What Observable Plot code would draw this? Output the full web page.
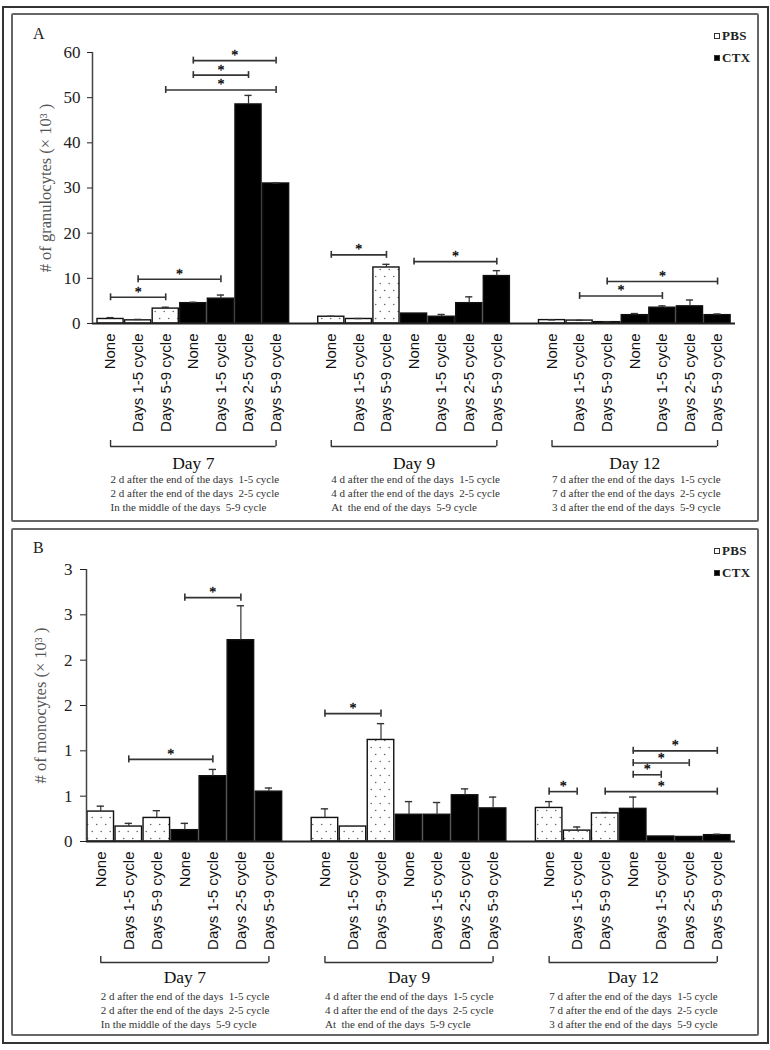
<!DOCTYPE html>
<html><head><meta charset="utf-8">
<script src="https://cdn.jsdelivr.net/npm/d3@7"></script>
<script src="https://cdn.jsdelivr.net/npm/@observablehq/plot@0.6"></script>
<style>
html,body{margin:0;padding:0;background:#fff;}
#page{position:relative;width:770px;height:1050px;overflow:hidden;font-family:"Liberation Serif","Times New Roman",serif;}
.box{position:absolute;box-sizing:border-box;}
#outer{left:2px;top:6px;width:767px;height:1038px;border:2px solid #333;}
#boxA{left:11px;top:13px;width:748px;height:509px;border:2px solid #666;border-radius:2px;}
#boxB{left:11px;top:528px;width:748px;height:508px;border:2px solid #666;border-radius:2px;}
.plot{position:absolute;left:0;}
.letter{position:absolute;font-size:16px;color:#222;line-height:16px;}
.legend{position:absolute;font-weight:bold;font-size:13px;color:#222;letter-spacing:0.3px;line-height:14px;white-space:nowrap;}
.sw{display:inline-block;box-sizing:border-box;width:6px;height:6px;border:1px solid #333;margin-right:2px;vertical-align:1px;}
</style></head>
<body>
<svg width="0" height="0" style="position:absolute">
  <defs>
    <pattern id="dots" patternUnits="userSpaceOnUse" width="9" height="14">
      <rect width="9" height="14" fill="#fff"></rect>
      <circle cx="2.2" cy="3.5" r="0.8" fill="#666"></circle>
      <circle cx="6.7" cy="10.5" r="0.8" fill="#666"></circle>
    </pattern>
  </defs>
</svg>
<div id="page">
  <div class="box" id="outer"></div>
  <div class="box" id="boxA"></div>
  <div class="box" id="boxB"></div>
  <div class="plot" id="plotA" style="top:0px"></div>
  <div class="plot" id="plotB" style="top:520px"></div>
  <div class="letter" style="left:33px;top:26px">A</div>
  <div class="letter" style="left:33px;top:540px">B</div>
  <div class="legend" style="left:714px;top:29px"><span class="sw" style="background:#fff"></span>PBS</div>
  <div class="legend" style="left:714px;top:51px"><span class="sw" style="background:#000"></span>CTX</div>
  <div class="legend" style="left:714px;top:544px"><span class="sw" style="background:#fff"></span>PBS</div>
  <div class="legend" style="left:714px;top:566px"><span class="sw" style="background:#000"></span>CTX</div>
</div>
<script>
// ---- data ----
const categories = ["None","Days 1-5 cycle","Days 5-9 cycle","None","Days 1-5 cycle","Days 2-5 cycle","Days 5-9 cycle"];
const treatments = ["PBS","PBS","PBS","CTX","CTX","CTX","CTX"];
const groupNames = ["Day 7","Day 9","Day 12"];
const groupNotes = [
  ["2 d after the end of the days  1-5 cycle","2 d after the end of the days  2-5 cycle","In the middle of the days  5-9 cycle"],
  ["4 d after the end of the days  1-5 cycle","4 d after the end of the days  2-5 cycle","At  the end of the days  5-9 cycle"],
  ["7 d after the end of the days  1-5 cycle","7 d after the end of the days  2-5 cycle","3 d after the end of the days  5-9 cycle"]
];
// granulocytes (x10^3), 7 bars per day
const granMean = [1.0,0.7,3.3,4.5,5.5,48.5,31.0, 1.5,1.0,12.4,2.2,1.5,4.5,10.5, 0.75,0.65,0.3,1.85,3.5,3.8,1.85];
const granErr  = [0.3,0.2,0.3,0.2,0.8,2.0,0.1, 0.1,0.1,0.7,0.0,0.5,1.4,1.2, 0.05,0.05,0.05,0.35,0.4,1.4,0.25];
// monocytes (x10^3)
const monoMean = [0.33,0.165,0.26,0.125,0.72,2.22,0.55, 0.26,0.165,1.12,0.295,0.295,0.51,0.365, 0.37,0.12,0.31,0.36,0.055,0.05,0.07];
const monoErr  = [0.06,0.035,0.08,0.075,0.075,0.38,0.04, 0.1,0.0,0.18,0.145,0.135,0.07,0.125, 0.07,0.04,0.01,0.13,0.0,0.0,0.01];
// significance brackets: [day index, from bar, to bar, y]
const granSig = [[0,3,6,58.2],[0,3,5,55.0],[0,2,6,51.7],[0,0,2,5.8],[0,1,4,9.8],[1,0,2,15.2],[1,3,6,13.7],[2,2,6,9.3],[2,1,4,6.1]];
const monoSig = [[0,3,5,2.69],[0,1,4,0.906],[1,0,2,1.41],[2,0,1,0.55],[2,3,6,1.0],[2,3,5,0.865],[2,3,4,0.736],[2,2,6,0.55]];
const yTicksA = [0,10,20,30,40,50,60];
const yTicksB = [0,0.5,1,1.5,2,2.5,3];
const yTickLabelsB = ["0","1","1","2","2","3","3"];
const yTitleA = "# of granulocytes (\u00d7 10\u00b3 )";
const yTitleB = "# of monocytes (\u00d7 10\u00b3 )";

function panel(c) {
  const bars = [];
  groupNames.forEach((g, gi) => categories.forEach((cat, ci) => {
    const k = gi * 7 + ci;
    bars.push({slot: gi * 8 + ci, label: cat, t: treatments[ci], v: c.means[k], e: c.errs[k]});
  }));
  const labelBySlot = new Map(bars.map(d => [d.slot, d.label]));
  const hw = 0.473;
  const groups = groupNames.map((name, gi) => ({name, first: gi * 8, last: gi * 8 + 6, mid: gi * 8 + 3, notes: groupNotes[gi].join("\n")}));
  const groupEnds = groups.flatMap(g => [{x: g.first}, {x: g.last}]);
  const sigs = c.sig.map(([g, a, b, y]) => ({x1: g * 8 + a, x2: g * 8 + b, y}));
  const sigEnds = sigs.flatMap(s => [{x: s.x1, y: s.y}, {x: s.x2, y: s.y}]);
  const withErr = bars.filter(d => d.e > 0);
  const serif = "Liberation Serif, Times New Roman, serif";
  return Plot.plot({
    width: 770, height: c.height,
    marginLeft: c.ml, marginRight: 35, marginTop: c.mt, marginBottom: c.mb,
    style: {background: "transparent", overflow: "visible"},
    x: {type: "linear", domain: c.xDomain, axis: null},
    y: {domain: c.yDomain, axis: null},
    color: {type: "ordinal", domain: ["PBS", "CTX"], range: ["url(#dots)", "#000"]},
    marks: [
      Plot.rect(bars, {x1: d => d.slot - hw, x2: d => d.slot + hw, y1: () => 0, y2: "v", fill: "t", stroke: "#111", strokeWidth: 1.4}),
      Plot.ruleX(withErr, {x: "slot", y1: "v", y2: d => d.v + d.e, stroke: "#333", strokeWidth: 1.2}),
      Plot.ruleY(withErr, {x1: d => d.slot - 0.13, x2: d => d.slot + 0.13, y: d => d.v + d.e, stroke: "#333", strokeWidth: 1.4}),
      Plot.ruleY([0], {stroke: "#222", strokeWidth: 2}),
      Plot.ruleX([c.xDomain[0]], {stroke: "#444", strokeWidth: 1.5}),
      Plot.axisY({ticks: c.yTicks, tickFormat: c.tickFormat, tickSize: c.tickSize, tickPadding: c.tickPadding, fontSize: 17, fontFamily: serif, color: "#222", label: null}),
      Plot.axisX({ticks: bars.map(d => d.slot), tickFormat: s => labelBySlot.get(s), tickRotate: -90, tickSize: 0, tickPadding: 10, fontSize: 15, fontFamily: "Liberation Sans, Arial, sans-serif", color: "#111", label: null}),
      Plot.text([c.yTitle], {frameAnchor: "left", rotate: -90, dx: c.titleDx, text: d => d, textAnchor: "middle", fontSize: 16.5, fontFamily: serif, fill: "#555"}),
      // significance brackets
      Plot.ruleY(sigs, {x1: "x1", x2: "x2", y: "y", stroke: "#333", strokeWidth: 1.6}),
      Plot.ruleX(sigEnds, {x: "x", y1: d => d.y - c.capHalf, y2: d => d.y + c.capHalf, stroke: "#333", strokeWidth: 1.6}),
      Plot.text(sigs, {x: d => (d.x1 + d.x2) / 2, y: "y", text: () => "*", dy: -5, fontSize: 14, fontFamily: serif, fill: "black", stroke: "black", strokeWidth: 0.3}),
      // group brackets and labels below the axis
      Plot.ruleY(groups, {x1: "first", x2: "last", y: () => 0, dy: c.brDy, stroke: "#333", strokeWidth: 1.4}),
      Plot.ruleX(groupEnds, {x: "x", y1: () => 0, y2: () => c.tipUnits, dy: c.brDy, stroke: "#333", strokeWidth: 1.4}),
      Plot.text(groups, {x: "mid", y: () => 0, text: "name", dy: c.dayDy, fontSize: 17.5, fontFamily: serif, fill: "#111"}),
      Plot.text(groups, {x: "first", y: () => 0, text: "notes", textAnchor: "start", lineAnchor: "top", dy: c.noteDy, lineHeight: 1.25, fontSize: 11, fontFamily: serif, fill: "#333"})
    ]
  });
}

document.getElementById("plotA").appendChild(panel({
  means: granMean, errs: granErr, sig: granSig, height: 520, ml: 92, mt: 52, mb: 197,
  xDomain: [-0.654, 22.65], yDomain: [0, 60], yTicks: yTicksA, tickFormat: d => String(d),
  tickSize: 5, tickPadding: 7, yTitle: yTitleA, titleDx: -47,
  capHalf: 0.77, tipUnits: 1.33, brDy: 123, dayDy: 140, noteDy: 150
}));
document.getElementById("plotB").appendChild(panel({
  means: monoMean, errs: monoErr, sig: monoSig, height: 525, ml: 86, mt: 49, mb: 204,
  xDomain: [-0.509, 22.65], yDomain: [0, 3], yTicks: yTicksB, tickFormat: d => yTickLabelsB[yTicksB.indexOf(d)],
  tickSize: 6, tickPadding: 8, yTitle: yTitleB, titleDx: -46,
  capHalf: 0.039, tipUnits: 0.066, brDy: 121, dayDy: 136, noteDy: 149
}));
</script>
</body></html>
